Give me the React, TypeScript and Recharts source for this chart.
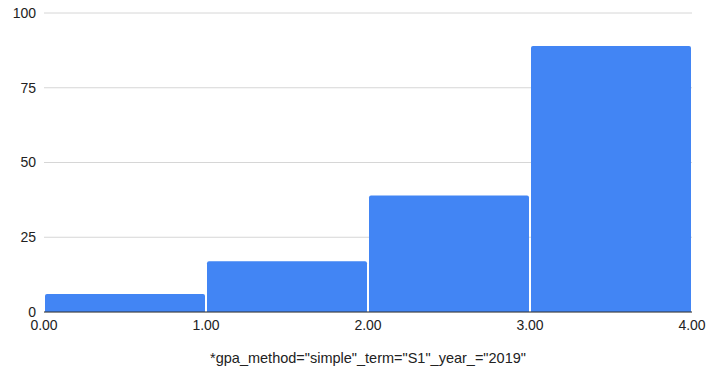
import React from 'react';
import { BarChart, Bar, XAxis, YAxis, CartesianGrid } from 'recharts';

// bin midpoints (GPA) and counts
const binMids = [0.5, 1.5, 2.5, 3.5];
const counts = [6, 17, 39, 89];
const xTicks = [0, 1, 2, 3, 4];
const yTicks = [0, 25, 50, 75, 100];
const axisTitle = '*gpa_method="simple"_term="S1"_year_="2019"';

const data = binMids.map((mid, i) => ({ mid, count: counts[i] }));

const FONT = '"Liberation Sans", Arial, sans-serif';

export default function App() {
  return (
    <div style={{ position: 'absolute', left: 0, top: 0, width: 709, height: 375, background: '#fff' }}>
      <BarChart
        width={709}
        height={375}
        data={data}
        margin={{ top: 13, right: 17, left: 0, bottom: 8 }}
        barCategoryGap={1}
        style={{ fontFamily: FONT }}
      >
        <CartesianGrid vertical={false} stroke="#d6d6d6" />
        <XAxis
          dataKey="mid"
          type="number"
          domain={[0, 4]}
          ticks={xTicks}
          tickFormatter={(v: number) => v.toFixed(2)}
          tickLine={false}
          axisLine={{ stroke: '#333', strokeWidth: 1 }}
          tick={{ fill: '#222', fontSize: 14, fontFamily: FONT }}
          height={55}
          interval={0}
          label={{ value: axisTitle, position: 'insideBottom', offset: 4, fill: '#222', fontSize: 14.5, fontFamily: FONT }}
        />
        <YAxis
          domain={[0, 100]}
          ticks={yTicks}
          width={44}
          tickLine={false}
          axisLine={false}
          tick={{ fill: '#222', fontSize: 14, fontFamily: FONT }}
        />
        <Bar dataKey="count" fill="#4285f4" radius={[2, 2, 0, 0]} isAnimationActive={false} />
      </BarChart>
    </div>
  );
}
